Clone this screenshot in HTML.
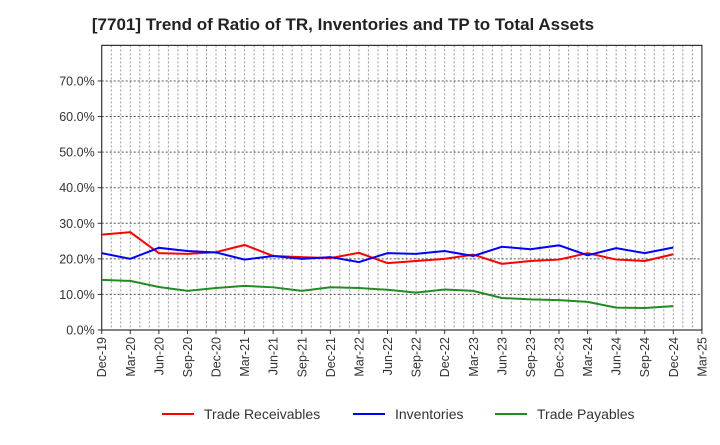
<!DOCTYPE html>
<html><head><meta charset="utf-8"><style>
body{margin:0;background:#fff;font-family:"Liberation Sans",sans-serif}
</style></head><body>
<svg width="720" height="440" xmlns="http://www.w3.org/2000/svg" font-family="Liberation Sans, sans-serif">
<text x="343" y="30" text-anchor="middle" font-size="17" font-weight="bold" fill="#222">[7701]  Trend of Ratio of TR, Inventories and TP to Total Assets</text>
<g id="grid"></g>
<g id="axes"></g>
<g id="series"></g>
<g id="legend"></g>
</svg>
<script>
const categories=["Dec-19","Mar-20","Jun-20","Sep-20","Dec-20","Mar-21","Jun-21","Sep-21","Dec-21","Mar-22","Jun-22","Sep-22","Dec-22","Mar-23","Jun-23","Sep-23","Dec-23","Mar-24","Jun-24","Sep-24","Dec-24","Mar-25"];
const tradeReceivables=[26.8,27.5,21.6,21.4,21.9,23.9,20.8,20.5,20.2,21.7,18.8,19.4,20.0,21.2,18.6,19.4,19.8,21.6,19.8,19.4,21.3];
const inventories=[21.6,20.0,23.1,22.2,21.8,19.8,20.8,20.0,20.5,19.1,21.6,21.4,22.2,20.8,23.4,22.7,23.8,21.0,23.0,21.6,23.2];
const tradePayables=[14.1,13.8,12.1,11.0,11.8,12.4,12.0,11.0,12.0,11.8,11.3,10.5,11.4,11.0,9.0,8.6,8.4,7.9,6.3,6.2,6.7];
const yTicks=[0,10,20,30,40,50,60,70];
const L=101.7,R=701.9,T=45.4,B=330;
const NS="http://www.w3.org/2000/svg";
const xS=i=>L+i*(R-L)/(categories.length-1);
const yS=v=>B-v*(B-T)/80;
function mk(p,tag,a){const e=document.createElementNS(NS,tag);for(const k in a)e.setAttribute(k,a[k]);p.appendChild(e);return e;}
const grid=document.getElementById('grid'),axes=document.getElementById('axes'),ser=document.getElementById('series'),leg=document.getElementById('legend');
for(let m=1;m<63;m++){const x=L+m*(R-L)/63;
const g=mk(grid,'line',{x1:x,x2:x,y1:T,y2:B,stroke:'#999','stroke-width':1,'stroke-dasharray':'2,2'});
}
for(let v=10;v<=80;v+=10){const y=yS(v);
const g=mk(grid,'line',{x1:L,x2:R,y1:y,y2:y,stroke:'#555','stroke-width':1,'stroke-dasharray':'2,2'});
}
const fr=mk(axes,'rect',{x:L,y:T,width:R-L,height:B-T,fill:'none',stroke:'#333','stroke-width':1.2});

yTicks.forEach(v=>{const y=yS(v);
mk(axes,'line',{x1:L-4,x2:L,y1:y,y2:y,stroke:'#333'});
const t=mk(axes,'text',{x:L-7,y:y+4.5,'text-anchor':'end','font-size':12.5,fill:'#333'});t.textContent=v.toFixed(1)+'%';
});
categories.forEach((c,i)=>{const x=xS(i);
mk(axes,'line',{x1:x,x2:x,y1:B,y2:B+4,stroke:'#333'});
const t=mk(axes,'text',{x:x+4.5,y:B+7,'text-anchor':'end','font-size':12.5,fill:'#333',transform:`rotate(-90 ${x+4.5} ${B+7})`});t.textContent=c;
});
const S=[["Trade Receivables",tradeReceivables,"#ff0000"],["Inventories",inventories,"#0000ff"],["Trade Payables",tradePayables,"#228b22"]];
S.forEach(([n,d,c],k)=>{
const p=mk(ser,'polyline',{points:d.map((v,i)=>xS(i)+','+yS(v)).join(' '),fill:'none',stroke:c,'stroke-width':2});

const lx=[162,353,495][k];
const g=mk(leg,'g',{});
mk(g,'line',{x1:lx,x2:lx+32,y1:414,y2:414,stroke:c,'stroke-width':2});
const t=mk(g,'text',{x:lx+42,y:419,'font-size':14,fill:'#333'});t.textContent=n;});
</script>
</body></html>
